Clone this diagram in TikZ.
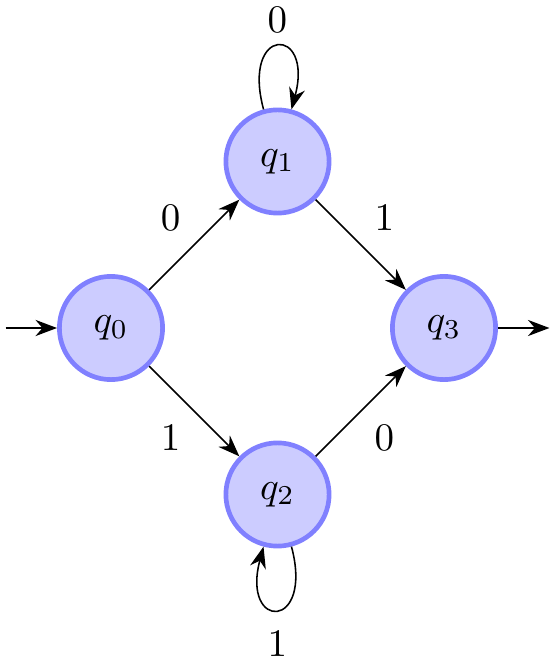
\documentclass[tikz,border=0pt]{standalone}
\usetikzlibrary{arrows.meta}
\tikzset{
  state/.style={circle,draw=blue!50,fill=blue!20,very thick,minimum size=0.93cm,inner sep=0pt},
  trans/.style={-{Stealth[scale=1.15]}}
}
\begin{document}
\begin{tikzpicture}
    \useasboundingbox (-1,-3) rectangle (4,2.955);
    \node[state] (q0) at (0,0) {$q_0$};
    \node[state] (q1) at (1.5,1.5) {$q_1$};
    \node[state] (q2) at (1.5,-1.5) {$q_2$};
    \node[state] (q3) at (3,0) {$q_3$};
    \coordinate (start) at (-0.95,0);
    \coordinate (stop) at (3.95,0);
    \draw[trans] (start) -- (q0);
    \draw[trans] (q3) -- (stop);
    \draw[trans] (q0) -- node[above left=0pt] {$0$} (q1);
    \draw[trans] (q0) -- node[below left=0pt] {$1$} (q2);
    \draw[trans] (q1) -- node[above right=0pt] {$1$} (q3);
    \draw[trans] (q2) -- node[below right=0pt] {$0$} (q3);
    \draw[trans] (q1) to[loop above] node[above] {$0$} (q1);
    \draw[trans] (q2) to[loop below] node[below=2pt] {$1$} (q2);
\end{tikzpicture}
\end{document}
